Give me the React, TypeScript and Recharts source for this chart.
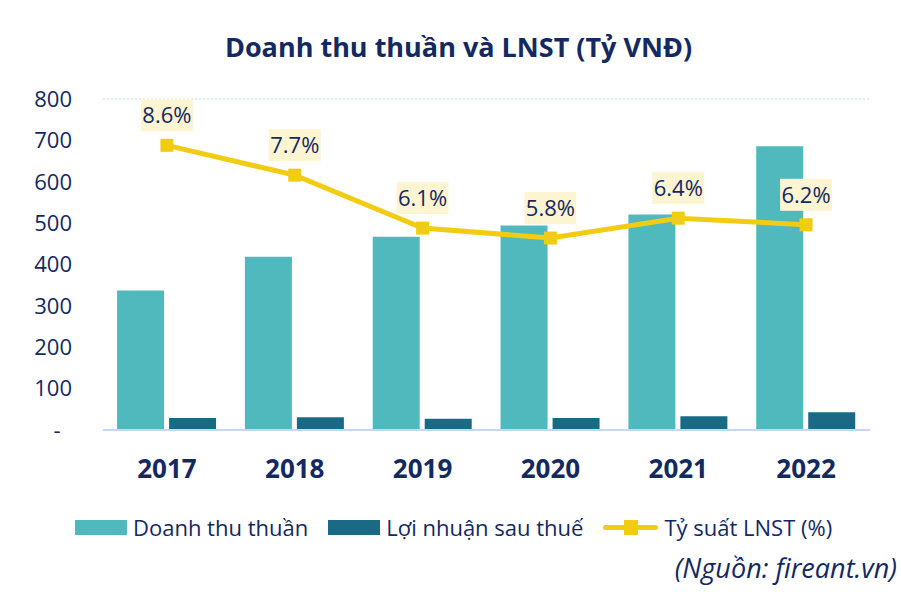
import { ComposedChart, Bar, Line, XAxis, YAxis, CartesianGrid, LabelList } from 'recharts';

const YEARS = ['2017', '2018', '2019', '2020', '2021', '2022'];
const REVENUE = [337, 419, 467, 494, 521, 686];
const NET_PROFIT = [29, 31, 27, 29, 33, 43];
const MARGIN_PCT = [8.6, 7.7, 6.1, 5.8, 6.4, 6.2];
const Y_TICKS = [0, 100, 200, 300, 400, 500, 600, 700, 800];

const NAVY = '#13295f';
const TEAL = '#4fb9be';
const DARK_TEAL = '#1a6a85';
const YELLOW = '#f2cc12';
const FONT = '"Open Sans", sans-serif';

const chartData = YEARS.map((year, i) => ({
  year,
  revenue: REVENUE[i],
  profit: NET_PROFIT[i],
  margin: MARGIN_PCT[i],
}));

// square marker for the margin line
const SquareDot = (props: any) => {
  const { cx, cy } = props;
  if (cx == null || cy == null) return null;
  return <rect x={cx - 6.5} y={cy - 6.5} width={13} height={13} fill={YELLOW} />;
};

// yellow-boxed percent label above each marker
const PctLabel = (props: any) => {
  const { x, y, value } = props;
  const text = `${Number(value).toFixed(1)}%`;
  const w = 52;
  return (
    <g>
      <rect x={x - w / 2} y={y - 46} width={w} height={32} fill="#fdf4d2" />
      <text x={x} y={y - 30} dy="0.36em" textAnchor="middle" fontSize={22} fill={NAVY} fontFamily={FONT}>
        {text}
      </text>
    </g>
  );
};

const LEGEND = [
  { name: 'Doanh thu thuần', color: TEAL, kind: 'bar' },
  { name: 'Lợi nhuận sau thuế', color: DARK_TEAL, kind: 'bar' },
  { name: 'Tỷ suất LNST (%)', color: YELLOW, kind: 'line' },
];

export default function App() {
  return (
    <div style={{ position: 'absolute', left: 0, top: 0, width: 901, height: 592, background: '#fff', fontFamily: FONT, color: NAVY }}>
      <div style={{ position: 'absolute', left: 0, width: 901, top: 28, textAlign: 'center', fontSize: 27, fontWeight: 700, paddingLeft: 8 }}>
        Doanh thu thuần và LNST (Tỷ VNĐ)
      </div>
      <ComposedChart
        width={901}
        height={592}
        data={chartData}
        margin={{ top: 99, right: 31, bottom: 122, left: 0 }}
        barCategoryGap="11%"
        barGap={5}
      >
        <CartesianGrid stroke="#c4d3f1" strokeDasharray="2 2" vertical={false} />
        <XAxis
          dataKey="year"
          height={40}
          tickSize={0}
          tickMargin={30}
          axisLine={{ stroke: '#c6d6f4', strokeWidth: 2 }}
          tick={{ fontSize: 26, fontWeight: 700, fill: NAVY, fontFamily: FONT }}
        />
        <YAxis
          yAxisId="left"
          domain={[0, 800]}
          ticks={Y_TICKS}
          width={103}
          tickSize={0}
          tickMargin={31}
          axisLine={false}
          tickLine={false}
          tickFormatter={(v: number) => (v === 0 ? '-\u00a0\u00a0' : String(v))}
          tick={{ fontSize: 22, fill: NAVY, fontFamily: FONT }}
        />
        <YAxis yAxisId="pct" orientation="right" domain={[0, 10]} hide width={0} />
        <Bar yAxisId="left" dataKey="revenue" fill={TEAL} isAnimationActive={false} />
        <Bar yAxisId="left" dataKey="profit" fill={DARK_TEAL} isAnimationActive={false} />
        <Line
          yAxisId="pct"
          dataKey="margin"
          stroke={YELLOW}
          strokeWidth={5}
          dot={<SquareDot />}
          activeDot={false}
          isAnimationActive={false}
        >
          <LabelList dataKey="margin" content={<PctLabel />} />
        </Line>
      </ComposedChart>
      <div style={{ position: 'absolute', left: 75, top: 512, display: 'flex', alignItems: 'center', gap: 20, fontSize: 22, whiteSpace: 'nowrap' }}>
        {LEGEND.map((item) => (
          <span key={item.name} style={{ display: 'flex', alignItems: 'center', gap: 6 }}>
            {item.kind === 'bar' ? (
              <span style={{ display: 'inline-block', width: 52, height: 15, background: item.color }} />
            ) : (
              <span style={{ position: 'relative', display: 'inline-block', width: 55, height: 15 }}>
                <span style={{ position: 'absolute', left: 0, right: 0, top: 5, height: 5, borderRadius: 3, background: item.color }} />
                <span style={{ position: 'absolute', left: 21, top: 0, width: 14, height: 15, background: item.color }} />
              </span>
            )}
            {item.name}
          </span>
        ))}
      </div>
      <div style={{ position: 'absolute', right: 4, top: 549, fontSize: 27, fontStyle: 'italic' }}>
        (Nguồn: fireant.vn)
      </div>
    </div>
  );
}
